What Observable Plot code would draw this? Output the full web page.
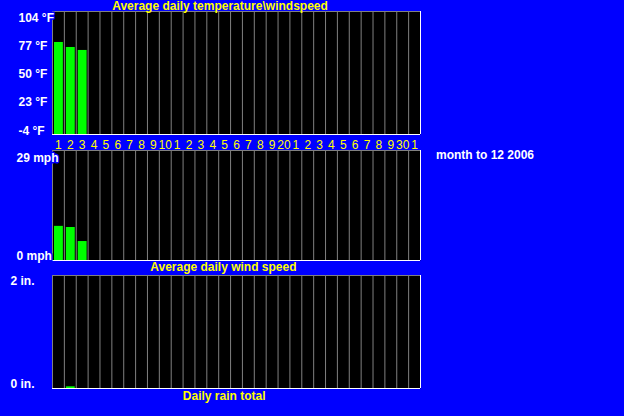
<!DOCTYPE html>
<html><head><meta charset="utf-8">
<script src="https://cdn.jsdelivr.net/npm/d3@7"></script>
<script src="https://cdn.jsdelivr.net/npm/@observablehq/plot@0.6"></script>
<style>
html,body{margin:0;padding:0;background:#0000ff;}
#chart{position:relative;width:624px;height:416px;background:#0000ff;overflow:hidden;}
#chart svg{position:absolute;left:0;top:0;}
.lbl{position:absolute;white-space:nowrap;font:bold 12px/12px "Liberation Sans",Arial,sans-serif;}
</style></head><body><div id="chart"></div>
<script>
// ---- data ----
const days = [1,2,3,4,5,6,7,8,9,10,11,12,13,14,15,16,17,18,19,20,21,22,23,24,25,26,27,28,29,30,31];
const dayLabels = ["1","2","3","4","5","6","7","8","9","10","1","2","3","4","5","6","7","8","9","20","1","2","3","4","5","6","7","8","9","30","1"];
const tempDays = [1,2,3];
const tempValues = [76.8,72.4,69.8];
const tempTicks = [-4,23,50,77,104];
const windDays = [1,2,3];
const windValues = [9.0,8.7,5.0];
const windTicks = [0,29];
const rainDays = [1,2,3];
const rainValues = [0,0.03,0];
const rainTicks = [0,2];
const titles = ["Average daily temperature\\windspeed","Average daily wind speed","Daily rain total"];
const periodText = "month to 12 2006";

// ---- style ----
const W = 624, H = 416;
const C = {bg:"#0000ff", plot:"#000000", grid:"#808080", bar:"#00ff00", light:"#ffffff", text:"#ffffff", title:"#ffff00"};
const FONT = '"Liberation Sans", Arial, sans-serif';
const chart = document.getElementById("chart");

function panel({top, bottom, domain, dList, values, ticks, unit, labelX, insetTop, insetBottom, dayAxis}) {
  const data = dList.map((d, i) => ({day: d, value: values[i]}));
  const common = {
    width: W, height: H, marginLeft: 52, marginRight: 204, marginTop: top, marginBottom: H - bottom,
    style: {background: "none", fontFamily: FONT, fontSize: "12px", overflow: "visible"}
  };
  const marks = [
    Plot.frame({fill: C.plot, stroke: "none"}),
    Plot.ruleX(days.slice(0, -1), {x: d => d + 0.5, stroke: C.grid}),
    Plot.rectY(data, {x1: d => d.day - 0.5, x2: d => d.day + 0.5, y1: domain[0], y2: "value", fill: C.bar, insetLeft: 2, insetRight: 1}),
    Plot.ruleY([domain[1]], {stroke: C.grid}),
    Plot.ruleX([days[0] - 0.5], {stroke: C.grid}),
    Plot.ruleY([domain[0]], {stroke: C.light}),
    Plot.ruleX([days[days.length - 1] + 0.5], {stroke: C.light})
  ];
  if (dayAxis) marks.push(Plot.axisX(days, {anchor: "bottom", tickSize: 0, tickPadding: 6,
    tickFormat: d => dayLabels[days.indexOf(d)], fill: C.title, fontSize: 12, fontWeight: "normal"}));
  const xOpt = {type: "linear", domain: [days[0] - 0.5, days[days.length - 1] + 0.5]};
  if (!dayAxis) xOpt.axis = null;
  const main = Plot.plot({...common, x: xOpt, y: {domain, axis: null}, marks});
  chart.appendChild(main);
  const ax = Plot.plot({...common, y: {domain, insetTop, insetBottom}, marks: [
    Plot.axisY(ticks, {anchor: "left", tickSize: 0, tickPadding: 52 - labelX, textAnchor: "start",
      tickFormat: d => `${d} ${unit}`, fill: C.text, fontWeight: "bold", fontSize: 12,
      textStroke: C.bg, textStrokeWidth: 3})
  ]});
  chart.appendChild(ax);
}

panel({top: 11, bottom: 134, domain: [tempTicks[0], tempTicks[tempTicks.length - 1]], dList: tempDays, values: tempValues,
  ticks: tempTicks, unit: "°F", labelX: 18, insetTop: 6.2, insetBottom: 3.8, dayAxis: true});
panel({top: 150, bottom: 260, domain: [windTicks[0], windTicks[1]], dList: windDays, values: windValues,
  ticks: windTicks, unit: "mph", labelX: 16, insetTop: 7.2, insetBottom: 4.8, dayAxis: false});
panel({top: 275, bottom: 388, domain: [rainTicks[0], rainTicks[1]], dList: rainDays, values: rainValues,
  ticks: rainTicks, unit: "in.", labelX: 10, insetTop: 5.2, insetBottom: 4.7, dayAxis: false});

function label(text, x, baseline, color, center) {
  const el = document.createElement("div");
  el.className = "lbl";
  el.textContent = text;
  el.style.color = color;
  el.style.left = x + "px";
  el.style.top = (baseline - 10.2) + "px";
  if (center) el.style.transform = "translateX(-50%)";
  chart.appendChild(el);
}
label(titles[0], 220, 10.2, C.title, true);
label(titles[1], 223.4, 271.5, C.title, true);
label(titles[2], 224.2, 400, C.title, true);
label(periodText, 436, 159.3, C.text, false);
</script></body></html>
